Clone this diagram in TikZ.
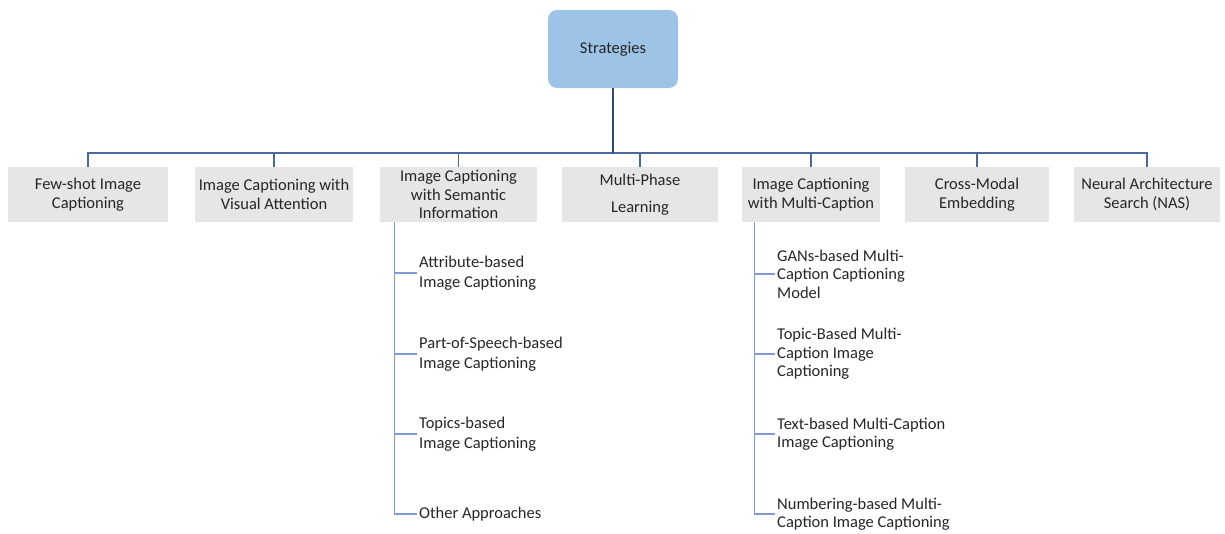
\documentclass[tikz,border=0pt]{standalone}
\usepackage{fontspec}
\setmainfont{Carlito}
\definecolor{txt}{HTML}{262626}
\definecolor{rootfill}{HTML}{9DC3E6}
\definecolor{boxfill}{HTML}{E6E6E6}
\definecolor{trunk}{HTML}{2F4B7C}
\definecolor{busline}{HTML}{4A6A9E}
\definecolor{subline}{HTML}{7F9CD2}
\begin{document}
\begin{tikzpicture}[x=1pt,y=-1pt,
  every node/.style={text=txt,font=\fontsize{16.5}{18.5}\selectfont},
  rootbox/.style={draw=none,fill=rootfill,rounded corners=9pt,minimum width=130pt,minimum height=78pt,inner sep=0pt},
  catbox/.style={draw=none,fill=boxfill,minimum height=55pt,inner sep=0pt,align=center},
  leaf/.style={anchor=west,align=left,inner sep=2pt,font=\fontsize{16.5}{19.5}\selectfont},
  trunkline/.style={draw=trunk,line width=2.6pt},
  busstyle/.style={draw=busline,line width=1.5pt},
  subbranch/.style={draw=subline,line width=1.3pt}]
\useasboundingbox (0,0) rectangle (1225,533);

% root
\node[rootbox] (S) at (613,49) {Strategies};

% categories
\node[catbox,minimum width=160pt] (b1) at (88,194.5) {Few-shot Image\\Captioning};
\node[catbox,minimum width=158pt] (b2) at (274,194.5) {Image Captioning with\\Visual Attention};
\node[catbox,minimum width=157pt] (b3) at (458.5,194.5) {Image Captioning\\with Semantic\\Information};
\node[catbox,minimum width=156pt] (b4) at (640,194.5) {Multi-Phase\\[8pt]Learning};
\node[catbox,minimum width=138pt] (b5) at (811,194.5) {Image Captioning\\with Multi-Caption};
\node[catbox,minimum width=144pt] (b6) at (977,194.5) {Cross-Modal\\Embedding};
\node[catbox,minimum width=146pt] (b7) at (1147,194.5) {Neural Architecture\\Search (NAS)};

% semantic-information leaves
\node[leaf] (a1) at (417,273) {Attribute-based\\Image Captioning};
\node[leaf] (a2) at (417,354) {Part-of-Speech-based\\Image Captioning};
\node[leaf] (a3) at (417,434) {Topics-based\\Image Captioning};
\node[leaf] (a4) at (417,514) {Other Approaches};

% multi-caption leaves
\node[leaf,font=\fontsize{16.5}{18.5}\selectfont] (m1) at (775,274) {GANs-based Multi-\\Caption Captioning\\Model};
\node[leaf,font=\fontsize{16.5}{18.5}\selectfont] (m2) at (775,354) {Topic-Based Multi-\\Caption Image\\Captioning};
\node[leaf,font=\fontsize{16.5}{18.5}\selectfont] (m3) at (775,434) {Text-based Multi-Caption\\Image Captioning};
\node[leaf,font=\fontsize{16.5}{18.5}\selectfont] (m4) at (775,514) {Numbering-based Multi-\\Caption Image Captioning};

% trunk and bus
\coordinate (bus) at (613,153);
\draw[busstyle] (b1.north) |- (bus) -| (b7.north);
\foreach \b in {b2,b3,b4,b5,b6}
  \draw[busstyle] (\b.north) -- (\b.north |- bus);
\draw[trunkline] (S.south) -- (S.south |- bus);

% sub-branches
\coordinate (l0) at ([xshift=15pt]b3.south west);
\draw[subbranch] (l0) |- (a4.west);
\foreach \n in {a1,a2,a3}
  \draw[subbranch] (l0 |- \n.west) -- (\n.west);

\coordinate (r0) at ([xshift=13pt]b5.south west);
\draw[subbranch] (r0) |- (m4.west);
\foreach \n in {m1,m2,m3}
  \draw[subbranch] (r0 |- \n.west) -- (\n.west);
\end{tikzpicture}
\end{document}
